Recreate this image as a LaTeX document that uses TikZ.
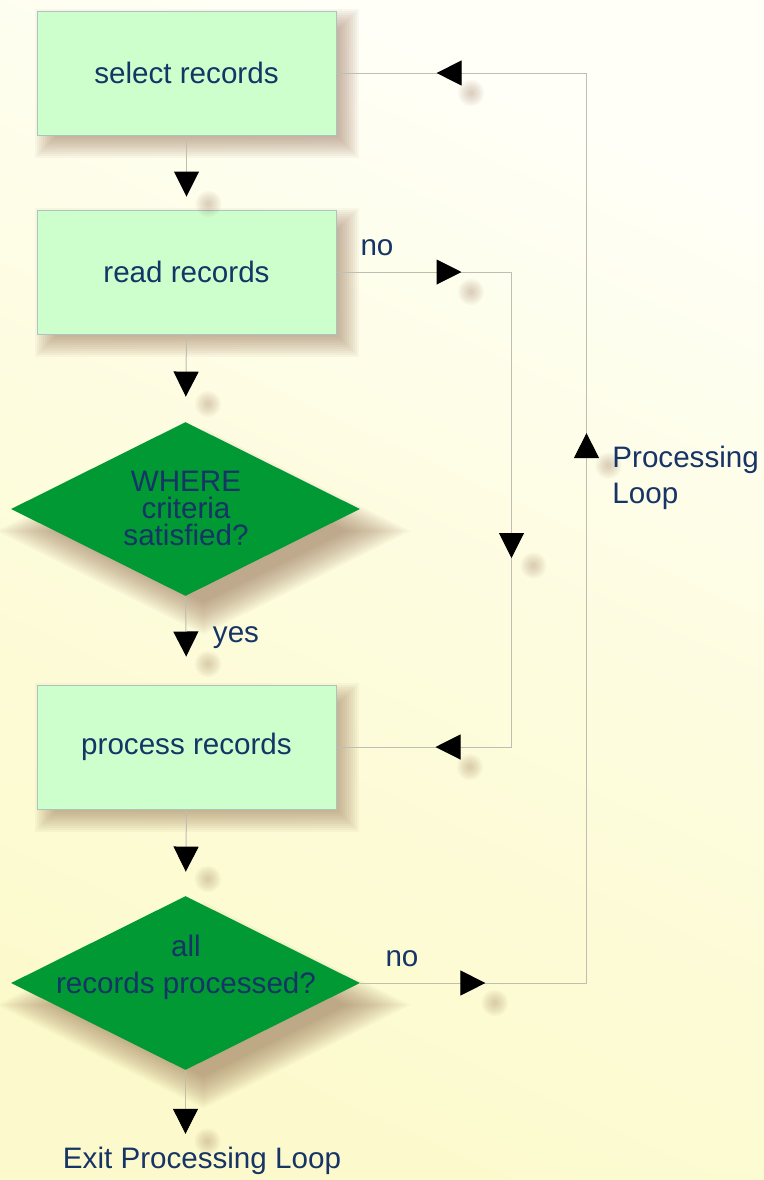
\documentclass[tikz,border=0pt]{standalone}
\usepackage{fontspec}
\setmainfont{Liberation Sans}
\usetikzlibrary{shapes.geometric,arrows.meta,decorations.markings,calc}

\definecolor{bgtop}{RGB}{255,255,248}
\definecolor{bgbot}{RGB}{252,250,204}
\definecolor{boxfill}{RGB}{204,255,204}
\definecolor{boxline}{RGB}{172,196,192}
\definecolor{dia}{RGB}{0,153,51}
\definecolor{ink}{RGB}{22,52,102}
\definecolor{wiregray}{RGB}{190,190,178}
\definecolor{shadowtan}{RGB}{140,98,70}

\pgfdeclarelayer{back}
\pgfdeclarelayer{hazy}
\pgfsetlayers{back,hazy,main}

\newcommand\trimark{%
  \begin{scope}
    \pgftransformxshift{-6.25pt}\pgftransformresetnontranslations
    \foreach \q in {1.5,2.5,3.5,4.5,5.5,6.5}
      \fill[shadowtan, opacity=.05] (11pt,-10pt) circle (\q pt);
  \end{scope}
  \arrow[black]{Triangle[length=12.5pt,width=12.5pt]}}
\newcommand\boxhaze[1]{%
  \foreach \i in {-12,-10,...,12}
    \fill[haze] ($(#1.north west)+(10+\i,10+\i)$) rectangle ($(#1.south east)+(10-\i,10-\i)$);}
\newcommand\diahaze[1]{%
  \foreach \i in {-16,-14,...,16}
    \fill[haze, opacity=.04] ($(#1.north)+(18,22+\i)$) -- ($(#1.east)+(18-2*\i,22)$)
      -- ($(#1.south)+(18,22-\i)$) -- ($(#1.west)+(18+2*\i,22)$) -- cycle;}

\tikzset{
  haze/.style={fill=shadowtan, opacity=.05},
  box/.style={rectangle, draw=boxline, line width=0.5pt, fill=boxfill, text=ink,
    minimum width=149.5pt, minimum height=62pt, inner sep=0pt},
  test/.style={diamond, fill=dia, aspect=2, minimum width=174.5pt, minimum height=87pt, inner sep=0pt},
  txt/.style={align=center, text=ink, inner sep=0pt},
  wire/.style={draw=wiregray, line width=0.5pt},
  tri/.style={postaction={decorate, decoration={markings, mark=at position #1 with {\trimark}}}},
  flow/.style={wire, shorten >=#1, tri=-#1},
}

\begin{document}
\begin{tikzpicture}[x=0.5pt, y=-0.5pt, font=\fontsize{14.8pt}{17.8pt}\selectfont]
  \begin{pgfonlayer}{back}
    \shade[top color=bgtop, bottom color=bgbot, middle color=bgbot!60!bgtop, shading angle=-25]
      (0,0) rectangle (764,1180);
  \end{pgfonlayer}
  \useasboundingbox (0,0) rectangle (764,1180);

  \node[box] (sel) at (186.5,73) {select records};
  \node[box] (rd) at (186.5,272) {read records};
  \node[test] (where) at (185.5,509) {};
  \node[txt, font=\fontsize{14.8pt}{13.5pt}\selectfont] at (186,508.5) {WHERE\\criteria\\satisfied?};
  \node[box] (proc) at (186.5,747) {process records};
  \node[test] (all) at (185.5,983) {};
  \node[txt, font=\fontsize{14.8pt}{18.5pt}\selectfont] at (186,967.5) {all\\records processed?};
  \node[txt] (exit) at (202,1161) {Exit Processing Loop};

  \begin{pgfonlayer}{hazy}
    \boxhaze{sel} \boxhaze{rd} \boxhaze{proc}
    \diahaze{where} \diahaze{all}
  \end{pgfonlayer}

  \coordinate (nob) at (511.5,500);
  \coordinate (back) at (586.5,500);

  \draw[flow=6.5pt] (sel.south) -- (rd.north);
  \draw[flow=12.5pt] (rd.south) -- (where.north);
  \draw[flow=14pt] (where.south) -- (proc.north);
  \draw[flow=12pt] (proc.south) -- (all.north);
  \draw[flow=6.5pt] (all.south) -- (all.south |- exit.north);

  \draw[wire, tri=62.5pt, tri=230.5pt, tri=363pt] (rd.east) -| (nob) |- (proc.east);
  \draw[wire, tri=62.5pt, tri=388pt, tri=643pt] (all.east) -| (back) |- (sel.east);

  \node[txt] at (377,247.5) {no};
  \node[txt] at (236,637.5) {yes};
  \node[txt] at (402,959) {no};
  \node[txt, align=left, anchor=west] (loop) at (612,478) {Processing\\Loop};
\end{tikzpicture}
\end{document}
